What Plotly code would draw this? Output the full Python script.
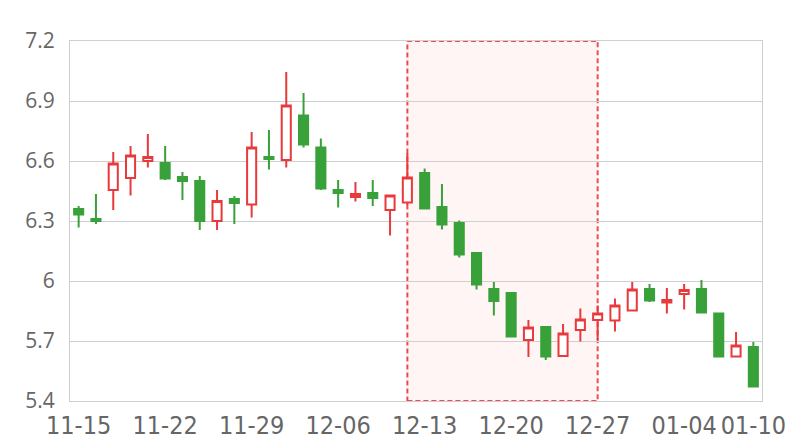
import plotly.graph_objects as go

dates = ["11-15", "11-16", "11-19", "11-20", "11-21", "11-22", "11-23", "11-26", "11-27", "11-28",
         "11-29", "11-30", "12-03", "12-04", "12-05", "12-06", "12-07", "12-10", "12-11", "12-12",
         "12-13", "12-14", "12-17", "12-18", "12-19", "12-20", "12-21", "12-24", "12-25", "12-26",
         "12-27", "12-28", "12-31", "01-02", "01-03", "01-04", "01-07", "01-08", "01-09", "01-10"]

open_ = [6.36, 6.31, 6.455, 6.515, 6.60, 6.59, 6.52, 6.50, 6.30, 6.41,
         6.383, 6.62, 6.605, 6.828, 6.668, 6.455, 6.42, 6.44, 6.355, 6.393,
         6.54, 6.37, 6.29, 6.14, 5.96, 5.94, 5.705, 5.77, 5.625, 5.755,
         5.805, 5.803, 5.853, 5.96, 5.892, 5.935, 5.96, 5.838, 5.622, 5.67]
close = [6.333, 6.30, 6.587, 6.627, 6.62, 6.512, 6.50, 6.30, 6.40, 6.39,
         6.668, 6.61, 6.877, 6.682, 6.462, 6.44, 6.435, 6.415, 6.428, 6.518,
         6.362, 6.282, 6.132, 5.982, 5.90, 5.722, 5.767, 5.622, 5.738, 5.807,
         5.837, 5.878, 5.957, 5.902, 5.905, 5.955, 5.842, 5.622, 5.677, 5.472]
high = [6.375, 6.435, 6.645, 6.675, 6.735, 6.675, 6.545, 6.525, 6.455, 6.425,
        6.745, 6.755, 7.045, 6.94, 6.713, 6.505, 6.495, 6.505, 6.43, 6.64,
        6.563, 6.485, 6.303, 6.14, 5.995, 5.945, 5.805, 5.775, 5.785, 5.863,
        5.877, 5.913, 5.995, 5.985, 5.965, 5.985, 6.005, 5.84, 5.745, 5.695]
low = [6.267, 6.285, 6.355, 6.427, 6.567, 6.505, 6.405, 6.255, 6.255, 6.285,
       6.317, 6.557, 6.567, 6.667, 6.455, 6.367, 6.397, 6.375, 6.227, 6.38,
       6.36, 6.257, 6.117, 5.957, 5.827, 5.717, 5.62, 5.605, 5.625, 5.697,
       5.705, 5.747, 5.847, 5.895, 5.837, 5.857, 5.842, 5.62, 5.617, 5.47]

tick_labels = ["11-15", "11-22", "11-29", "12-06", "12-13", "12-20", "12-27", "01-04", "01-10"]
highlight_start = "12-12"
highlight_end = "12-27"

RED = "#e8393c"
GREEN = "#38a13a"
GRID = "#cfcfcf"
YFONT = dict(family="Open Sans", size=21, color="#666666")
XFONT = dict(family="Liberation Sans Narrow, DejaVu Sans Condensed, Open Sans", size=25, color="#666666")

fig = go.Figure()
fig.add_trace(go.Candlestick(
    x=dates, open=open_, high=high, low=low, close=close,
    increasing=dict(line=dict(color=RED, width=2), fillcolor="white"),
    decreasing=dict(line=dict(color=GREEN, width=2), fillcolor=GREEN),
    whiskerwidth=0,
    showlegend=False,
    hoverinfo="skip",
))

fig.add_shape(
    type="rect", xref="x", yref="y",
    x0=dates.index(highlight_start), x1=dates.index(highlight_end),
    y0=5.4, y1=7.2,
    fillcolor="rgba(255,120,120,0.07)",
    line=dict(color="#ee4a52", width=2, dash="5px,3px"),
    layer="below",
)

fig.update_layout(
    width=800, height=440,
    margin=dict(l=62, r=46, t=33, b=47),
    paper_bgcolor="white", plot_bgcolor="white",
    font=YFONT,
    boxgap=0.25,
    xaxis=dict(
        type="category", automargin=False,
        rangeslider=dict(visible=False),
        range=[-0.5, len(dates) - 0.5],
        tickmode="array", tickvals=tick_labels, ticktext=tick_labels,
        showgrid=False, showline=True, linecolor=GRID, linewidth=1, mirror=True,
        ticks="", ticklabelstandoff=2, tickfont=XFONT, zeroline=False,
    ),
    yaxis=dict(
        automargin=False,
        range=[5.4, 7.2], tick0=5.4, dtick=0.3,
        showgrid=True, gridcolor=GRID, gridwidth=1,
        showline=True, linecolor=GRID, linewidth=1, mirror=True,
        ticks="", ticklabelstandoff=10, tickfont=YFONT, zeroline=False,
    ),
)

fig.write_html("out.html")
